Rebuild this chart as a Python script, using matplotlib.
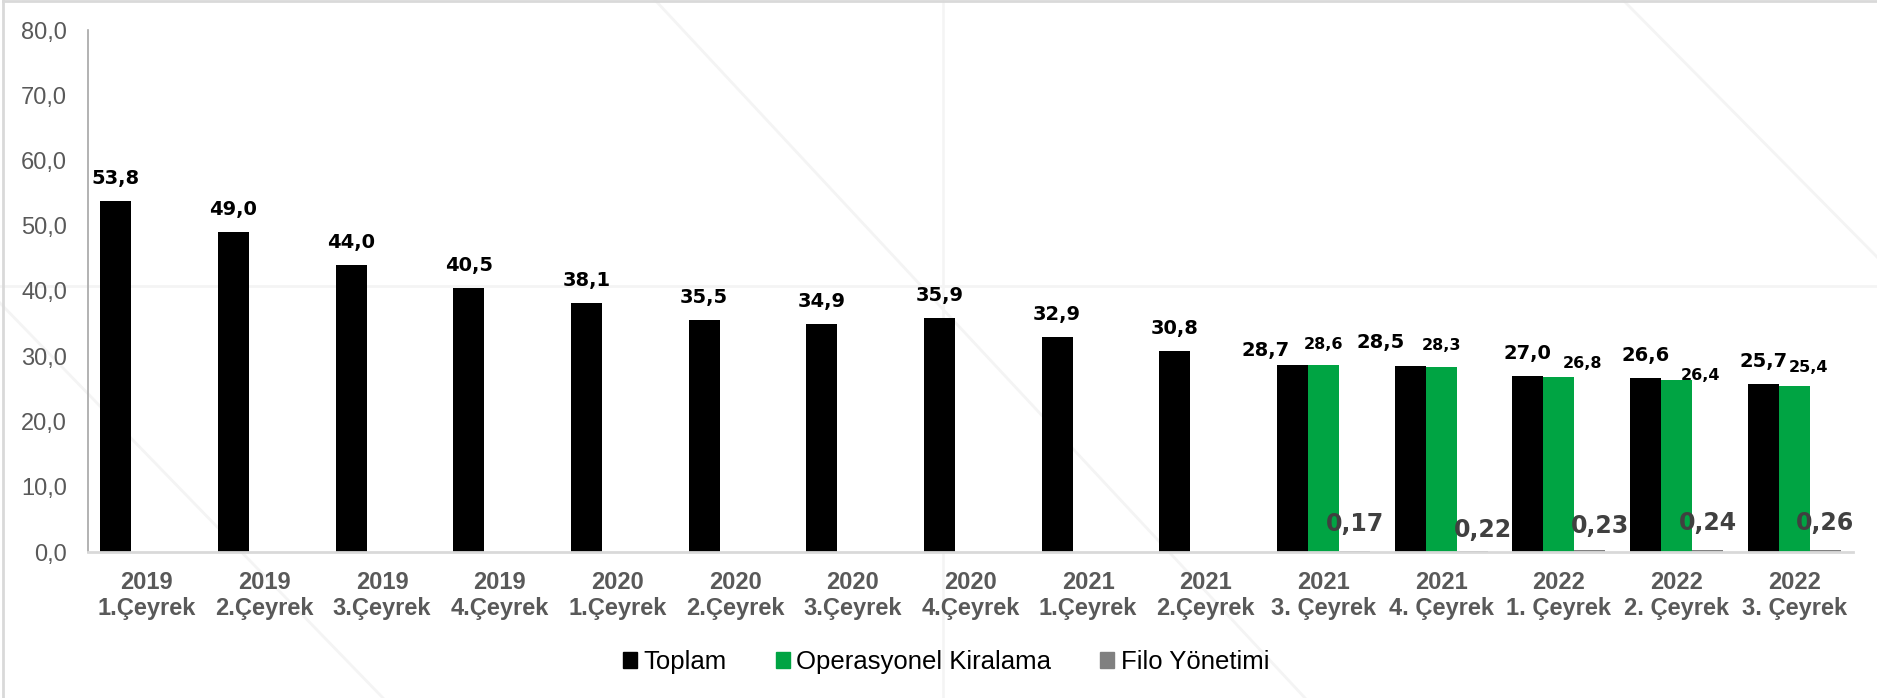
import numpy as np
import matplotlib
matplotlib.use("Agg")
import matplotlib.pyplot as plt
from matplotlib.lines import Line2D
from matplotlib.patches import Patch

# ---------------------------------------------------------------------------
# Data
# ---------------------------------------------------------------------------
quarters = [
    "2019\n1.Çeyrek", "2019\n2.Çeyrek", "2019\n3.Çeyrek", "2019\n4.Çeyrek",
    "2020\n1.Çeyrek", "2020\n2.Çeyrek", "2020\n3.Çeyrek", "2020\n4.Çeyrek",
    "2021\n1.Çeyrek", "2021\n2.Çeyrek", "2021\n3. Çeyrek", "2021\n4. Çeyrek",
    "2022\n1. Çeyrek", "2022\n2. Çeyrek", "2022\n3. Çeyrek",
]
toplam = [53.8, 49.0, 44.0, 40.5, 38.1, 35.5, 34.9, 35.9, 32.9, 30.8,
          28.7, 28.5, 27.0, 26.6, 25.7]
operasyonel = [np.nan] * 10 + [28.6, 28.3, 26.8, 26.4, 25.4]
filo = [np.nan] * 10 + [0.17, 0.22, 0.23, 0.24, 0.26]
series_names = ["Toplam", "Operasyonel Kiralama", "Filo Yönetimi"]
yticks = [0, 10, 20, 30, 40, 50, 60, 70, 80]

# Label nudges in pixels (dx, dy above bar top) – the source chart had a few
# labels dragged by hand
off_black = {10: (-27, 9), 11: (-29, 18)}
off_green = {10: (0, 16), 11: (0, 17), 12: (24, 9), 13: (24, 0), 14: (14, 14)}
off_grey = {10: (0, 20), 11: (11, 14), 12: (10, 17), 13: (0, 20), 14: (0, 20)}

COL = {"black": "#000000", "green": "#00a443", "grey": "#808080",
       "tick": "#595959", "axis": "#a6a6a6", "base": "#d9d9d9",
       "wm": "#f4f4f4"}

W, H = 1877, 698
fig = plt.figure(figsize=(W / 100, H / 100), dpi=100)
fig.patch.set_facecolor("white")

# faint watermark / frame lines behind the chart (figure pixel coords)
def fline(x0, y0, x1, y1, color, lw):
    fig.add_artist(Line2D([x0 / W, x1 / W], [1 - y0 / H, 1 - y1 / H],
                          color=color, lw=lw, zorder=-5,
                          transform=fig.transFigure))

fline(0, 286, W, 286, COL["wm"], 2.0)
fline(943, 0, 943, H, COL["wm"], 1.8)
fline(655, 0, 1305, H, COL["wm"], 2.0)
fline(1623, 0, W, 257, COL["wm"], 2.0)
fline(0, 303, 383, H, COL["wm"], 2.0)
fline(3, 1, 3, H, COL["base"], 2.0)
fline(3, 1, W, 1, COL["base"], 2.0)

ax = fig.add_axes([88 / W, 1 - 552 / H, (1853 - 88) / W, (552 - 30) / H])
ax.set_facecolor("none")

x = np.arange(len(quarters))
bw = 0.264
ax.bar(x - bw, toplam, bw, color=COL["black"], zorder=3)
ax.bar(x, operasyonel, bw, color=COL["green"], zorder=3)
ax.bar(x + bw, filo, bw, color=COL["grey"], zorder=3)

def fmt(v, nd):
    return f"{v:.{nd}f}".replace(".", ",")

for i, v in enumerate(toplam):
    dx, dy = off_black.get(i, (0, 17))
    ax.annotate(fmt(v, 1), (x[i] - bw, v), xytext=(dx, dy),
                textcoords="offset pixels", ha="center", va="baseline",
                fontsize=14, fontweight="bold", family="DejaVu Sans",
                color="black")
for i, v in enumerate(operasyonel):
    if np.isnan(v):
        continue
    dx, dy = off_green.get(i, (0, 16))
    ax.annotate(fmt(v, 1), (x[i], v), xytext=(dx, dy),
                textcoords="offset pixels", ha="center", va="baseline",
                fontsize=11.5, fontweight="bold", family="DejaVu Sans",
                color="black")
for i, v in enumerate(filo):
    if np.isnan(v):
        continue
    dx, dy = off_grey.get(i, (0, 20))
    ax.annotate(fmt(v, 2), (x[i] + bw, v), xytext=(dx, dy),
                textcoords="offset pixels", ha="center", va="baseline",
                fontsize=17, fontweight="bold", family="DejaVu Sans",
                color="#404040")

ax.set_xlim(-0.5, len(quarters) - 0.5)
ax.set_ylim(0, 80)
ax.set_yticks(yticks)
ax.set_yticklabels([fmt(t, 1) for t in yticks], fontsize=17,
                   family="Liberation Sans", color=COL["tick"])
ax.set_xticks(x)
ax.set_xticklabels(quarters, fontsize=17, fontweight="bold",
                   family="Liberation Sans", color=COL["tick"],
                   linespacing=1.15)
ax.tick_params(axis="both", length=0)
ax.tick_params(axis="x", pad=14)
ax.tick_params(axis="y", pad=15)

for s in ["top", "right"]:
    ax.spines[s].set_visible(False)
ax.spines["left"].set_color(COL["axis"])
ax.spines["left"].set_linewidth(1.2)
ax.spines["bottom"].set_color(COL["base"])
ax.spines["bottom"].set_linewidth(2.0)
ax.spines["bottom"].set_zorder(4)

handles = [Patch(color=COL["black"]), Patch(color=COL["green"]),
           Patch(color=COL["grey"])]
fig.legend(handles, series_names, loc="center", ncol=3,
           bbox_to_anchor=(0.504, 36 / H), frameon=False,
           prop={"family": "Liberation Sans", "size": 18.5},
           handlelength=0.55, handleheight=0.55, handletextpad=0.25,
           columnspacing=1.9)

fig.savefig("out.png", dpi=100, facecolor="white")
